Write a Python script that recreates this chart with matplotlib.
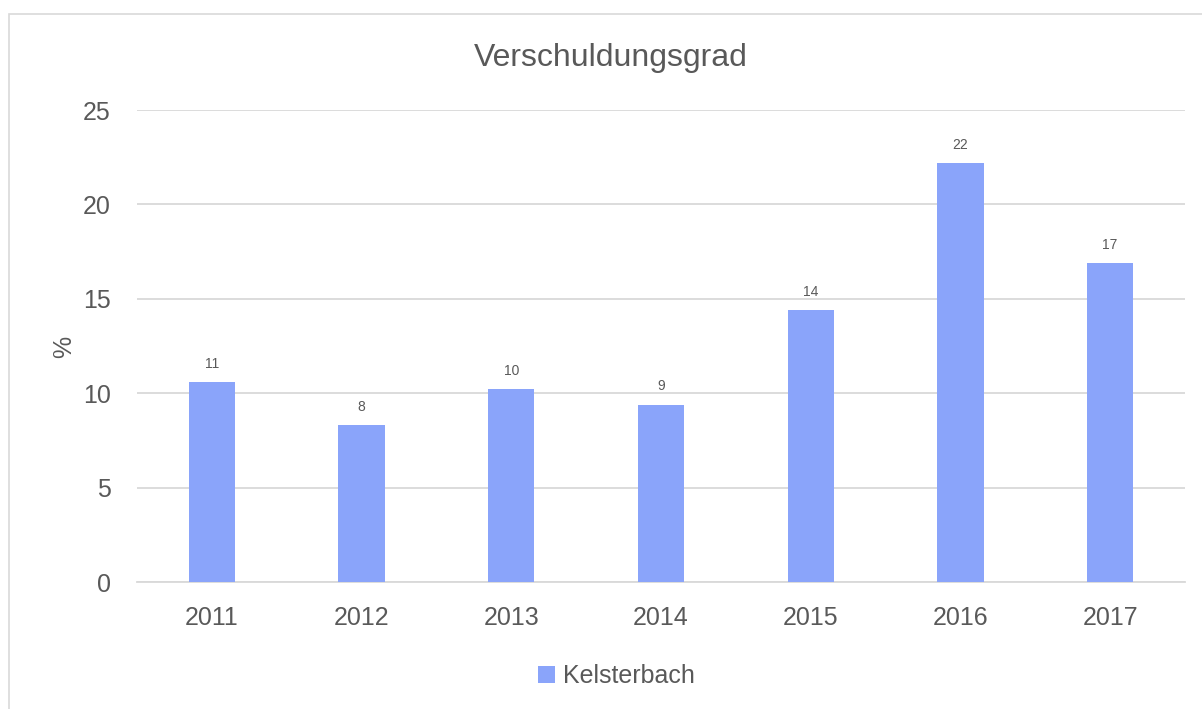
import matplotlib
matplotlib.use("Agg")
import matplotlib.pyplot as plt
from matplotlib.patches import Rectangle

# data
years = ["2011", "2012", "2013", "2014", "2015", "2016", "2017"]
values = [10.6, 8.3, 10.2, 9.4, 14.4, 22.2, 16.9]
labels = ["11", "8", "10", "9", "14", "22", "17"]
series_name = "Kelsterbach"

plt.rcParams['font.family'] = ['Liberation Sans', 'DejaVu Sans']
grey = "#595959"
bar_col = "#8aa4fa"

fig = plt.figure(figsize=(12.02, 7.09), dpi=100)
# light frame of the chart area
fig.patches.append(Rectangle((9 / 1202, -0.1), 1.2, (709 - 14) / 709 + 0.1,
                             transform=fig.transFigure, fill=False,
                             edgecolor="#d9d9d9", linewidth=1.2))

ax = fig.add_axes([137 / 1202, 1 - 582 / 709, (1185 - 137) / 1202, (582 - 110) / 709])
x = range(len(years))
bars = ax.bar(x, values, width=0.31, color=bar_col, zorder=3, label=series_name)

for b, lab in zip(bars, labels):
    ax.annotate(lab, (b.get_x() + b.get_width() / 2, b.get_height()),
                xytext=(0, 8), textcoords="offset points",
                ha="center", va="bottom", fontsize=10, color=grey)

ax.set_xlim(-0.5, len(years) - 0.5)
ax.set_ylim(0, 25)
ax.set_yticks([0, 5, 10, 15, 20, 25])
ax.set_xticks(list(x))
ax.set_xticklabels(years)
ax.tick_params(length=0, labelsize=18, colors=grey)
ax.tick_params(axis="x", pad=17)
ax.tick_params(axis="y", pad=19)
ax.grid(axis="y", color="#d9d9d9", linewidth=1.3, zorder=0)
for s in ["top", "right", "left"]:
    ax.spines[s].set_visible(False)
ax.spines["bottom"].set_color("#d9d9d9")
ax.spines["bottom"].set_linewidth(1.3)

ax.set_ylabel("%", fontsize=18, color=grey)
ax.yaxis.set_label_coords(-0.058, 0.498)
fig.text(611 / 1202, 1 - 58 / 709, "Verschuldungsgrad", ha="center", va="center",
         fontsize=23, color=grey)

fig.legend(handles=[bars], labels=[series_name], loc="center",
           bbox_to_anchor=(616 / 1202, 1 - 676 / 709), frameon=False,
           fontsize=18, labelcolor=grey, handlelength=0.7, handleheight=0.7,
           handletextpad=0.3)

fig.savefig("out.png", dpi=100)
